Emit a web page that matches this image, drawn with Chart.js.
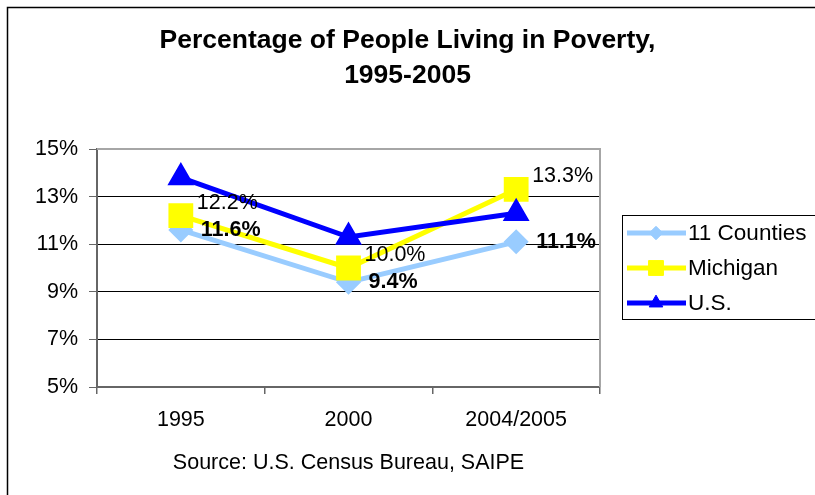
<!DOCTYPE html>
<html>
<head>
<meta charset="utf-8">
<script src="https://cdn.jsdelivr.net/npm/chart.js@4.4.1/dist/chart.umd.min.js"></script>
<style>
  html, body { margin: 0; padding: 0; background: #fff; }
  #wrap { width: 815px; height: 495px; }
</style>
</head>
<body>
<div id="wrap"><canvas id="povertyChart" width="815" height="495"></canvas></div>
<script>
// data
const years = ["1995", "2000", "2004/2005"];
const counties = [11.6, 9.4, 11.1];
const michigan = [12.2, 10.0, 13.3];
const usa = [13.8, 11.3, 12.3];
const yTicks = [5, 7, 9, 11, 13, 15];
const seriesNames = ["11 Counties", "Michigan", "U.S."];

const FONT = "'Liberation Sans', Arial, sans-serif";

// frame around the whole chart + plot area edges
const framePlugin = {
  id: "frame",
  beforeDraw(chart) {
    const ctx = chart.ctx;
    ctx.save();
    ctx.fillStyle = "#fff";
    ctx.fillRect(0, 0, chart.width, chart.height);
    ctx.strokeStyle = "#000";
    ctx.lineWidth = 1.5;
    ctx.beginPath();
    ctx.moveTo(7.5, chart.height + 5);
    ctx.lineTo(7.5, 7.5);
    ctx.lineTo(chart.width + 5, 7.5);
    ctx.stroke();
    ctx.restore();
  },
  afterDraw(chart) {
    const { ctx, chartArea: a } = chart;
    ctx.save();
    ctx.strokeStyle = "#a6a6a6";
    ctx.lineWidth = 2;
    ctx.beginPath();
    ctx.moveTo(a.left, a.top);
    ctx.lineTo(a.right, a.top);
    ctx.lineTo(a.right, a.bottom);
    ctx.stroke();
    ctx.restore();
  }
};

// value labels next to the points (Michigan plain, 11 Counties bold)
const valueLabels = {
  id: "valueLabels",
  afterDatasetsDraw(chart) {
    const ctx = chart.ctx;
    ctx.save();
    ctx.fillStyle = "#000";
    ctx.textBaseline = "middle";
    ctx.textAlign = "left";
    chart.data.datasets.forEach((ds, i) => {
      if (!ds.labelStyle) return;
      const meta = chart.getDatasetMeta(i);
      ctx.font = (ds.labelStyle.bold ? "bold " : "") + "21.5px " + FONT;
      meta.data.forEach((pt, j) => {
        ctx.fillText(ds.data[j].toFixed(1) + "%", pt.x + ds.labelStyle.dx, pt.y + ds.labelStyle.dy);
      });
    });
    ctx.restore();
  }
};

// excel style legend box: line with marker in the middle
const sideLegend = {
  id: "sideLegend",
  afterDraw(chart) {
    const ctx = chart.ctx;
    const left = chart.chartArea.right + 22;
    const top = 215;
    ctx.save();
    ctx.strokeStyle = "#000";
    ctx.lineWidth = 1;
    ctx.strokeRect(left + 0.5, top + 0.5, 240, 104);
    ctx.font = "22.5px " + FONT;
    ctx.textBaseline = "middle";
    chart.data.datasets.forEach((ds, i) => {
      const y = top + 18 + i * 35;
      ctx.strokeStyle = ds.borderColor;
      ctx.lineWidth = 5;
      ctx.beginPath();
      ctx.moveTo(left + 5, y);
      ctx.lineTo(left + 64, y);
      ctx.stroke();
      ctx.fillStyle = ds.borderColor;
      ctx.lineWidth = 1;
      Chart.helpers.drawPoint(ctx, {
        pointStyle: ds.pointStyle,
        radius: ds.pointRadius * 0.75,
        borderWidth: 1
      }, left + 34, y);
      ctx.fillStyle = "#000";
      ctx.fillText(ds.label, left + 66, y + 1);
    });
    ctx.restore();
  }
};

new Chart(document.getElementById("povertyChart"), {
  type: "line",
  data: {
    labels: years,
    datasets: [
      {
        label: seriesNames[0],
        data: counties,
        borderColor: "#99CCFF",
        backgroundColor: "#99CCFF",
        pointStyle: "rectRot",
        pointRadius: 9,
        borderWidth: 5,
        order: 3,
        labelStyle: { bold: true, dx: 20, dy: 0 }
      },
      {
        label: seriesNames[1],
        data: michigan,
        borderColor: "#FFFF00",
        backgroundColor: "#FFFF00",
        pointStyle: "rect",
        pointRadius: 14,
        borderWidth: 5,
        order: 2,
        labelStyle: { bold: false, dx: 16, dy: -13 }
      },
      {
        label: seriesNames[2],
        data: usa,
        borderColor: "#0000FF",
        backgroundColor: "#0000FF",
        pointStyle: "triangle",
        pointRadius: 10.5,
        borderWidth: 5,
        order: 1
      }
    ]
  },
  options: {
    responsive: false,
    animation: false,
    layout: { padding: 0 },
    elements: {
      line: { tension: 0 },
      point: { borderWidth: 1, hoverRadius: 9 }
    },
    scales: {
      x: {
        offset: true,
        grid: {
          offset: true,
          drawOnChartArea: false,
          drawTicks: true,
          tickLength: 7,
          tickColor: "#666",
          lineWidth: 1.5
        },
        border: { color: "#666", width: 2 },
        ticks: { color: "#000", font: { family: FONT, size: 21.5 }, padding: 13 },
        title: {
          display: true,
          text: "Source: U.S. Census Bureau, SAIPE",
          color: "#000",
          font: { family: FONT, size: 21.5 },
          padding: { top: 0, bottom: 19 }
        },
        afterFit(s) { s.height = 108; }
      },
      y: {
        min: 5,
        max: 15,
        afterBuildTicks(s) { s.ticks = yTicks.map(v => ({ value: v })); },
        grid: {
          color: "#000",
          lineWidth: 1,
          tickColor: "#666",
          tickLength: 8
        },
        border: { color: "#666", width: 2 },
        ticks: {
          color: "#000",
          font: { family: FONT, size: 21.5 },
          padding: 11,
          callback: v => v + "%"
        },
        afterFit(s) { s.width = 97; }
      },
      // empty right-hand column that leaves room for the legend
      side: {
        type: "linear",
        position: "right",
        display: true,
        grid: { display: false, drawTicks: false },
        border: { display: false },
        ticks: { display: false },
        afterFit(s) { s.width = 215; }
      }
    },
    plugins: {
      legend: { display: false },
      tooltip: { enabled: false },
      title: {
        display: true,
        text: ["Percentage of People Living in Poverty,", "1995-2005"],
        color: "#000",
        font: { family: FONT, size: 26.5, weight: "bold", lineHeight: "35px" },
        padding: { top: 23, bottom: 56 }
      }
    }
  },
  plugins: [framePlugin, valueLabels, sideLegend]
});
</script>
</body>
</html>
